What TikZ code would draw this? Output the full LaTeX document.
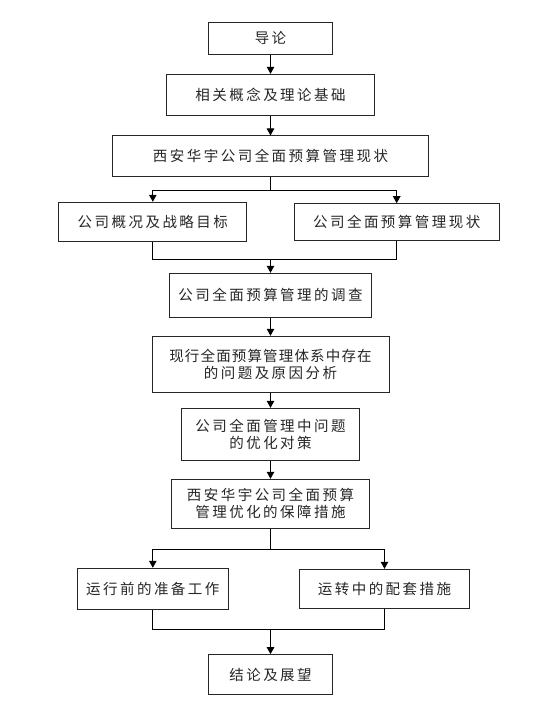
\documentclass[tikz,border=0pt]{standalone}
\usepackage{fontspec}
\setmainfont{Noto Sans CJK SC}[LetterSpace=17]
\usetikzlibrary{arrows.meta}
\begin{document}
\begin{tikzpicture}[x=1pt,y=-1pt,
  box/.style={draw=black!85,line width=1pt,inner sep=0pt,align=center,
    font=\fontsize{14.5pt}{17pt}\selectfont,text=black!85},
  arr/.style={draw=black,line width=1pt,-{Triangle[width=7.5pt,length=7pt]}},
  ln/.style={draw=black,line width=1pt}]
\useasboundingbox (0,0) rectangle (542,709);
\node[box,minimum width=123.6pt,minimum height=31.7pt] (b1) at (270.5,38.2) {导论};
\node[box,minimum width=207.3pt,minimum height=40.7pt] (b2) at (270.5,94.7) {相关概念及理论基础};
\node[box,minimum width=315.6pt,minimum height=40.7pt] (b3) at (270.5,156.3) {西安华宇公司全面预算管理现状};
\node[box,minimum width=187.7pt,minimum height=39.4pt] (b4) at (152.8,222) {公司概况及战略目标};
\node[box,minimum width=205.3pt,minimum height=36.6pt] (b5) at (396.7,222) {公司全面预算管理现状};
\node[box,minimum width=202.4pt,minimum height=44pt] (b6) at (270.5,295.3) {公司全面预算管理的调查};
\node[box,minimum width=237pt,minimum height=56pt] (b7) at (270.5,364.3) {{\addfontfeature{LetterSpace=8}现行全面预算管理体系中存在}\\的问题及原因分析};
\node[box,minimum width=177.3pt,minimum height=51.7pt] (b8) at (270.5,434.2) {公司全面管理中问题\\的优化对策};
\node[box,minimum width=197.6pt,minimum height=49pt] (b9) at (270.5,503.8) {西安华宇公司全面预算\\管理优化的保障措施};
\node[box,minimum width=151pt,minimum height=41pt] (b10) at (152.8,588.8) {运行前的准备工作};
\node[box,minimum width=169.6pt,minimum height=39.4pt] (b11) at (384.5,589) {运转中的配套措施};
\node[box,minimum width=123.6pt,minimum height=40.3pt] (b12) at (270.5,674.8) {结论及展望};
\coordinate (s1) at (270.5,190);
\coordinate (m1) at (270.5,259.3);
\coordinate (s2) at (270.5,549.3);
\coordinate (m2) at (270.5,629);
\draw[arr] (b1.south) -- (b2.north);
\draw[arr] (b2.south) -- (b3.north);
\draw[ln] (b3.south) -- (s1);
\draw[arr] (s1) -| (b4.north);
\draw[arr] (s1) -| (b5.north);
\draw[ln] (b4.south) |- (m1);
\draw[ln] (b5.south) |- (m1);
\draw[arr] (m1) -- (b6.north);
\draw[arr] (b6.south) -- (b7.north);
\draw[arr] (b7.south) -- (b8.north);
\draw[arr] (b8.south) -- (b9.north);
\draw[ln] (b9.south) -- (s2);
\draw[arr] (s2) -| (b10.north);
\draw[arr] (s2) -| (b11.north);
\draw[ln] (b10.south) |- (m2);
\draw[ln] (b11.south) |- (m2);
\draw[arr] (m2) -- (b12.north);
\end{tikzpicture}
\end{document}
